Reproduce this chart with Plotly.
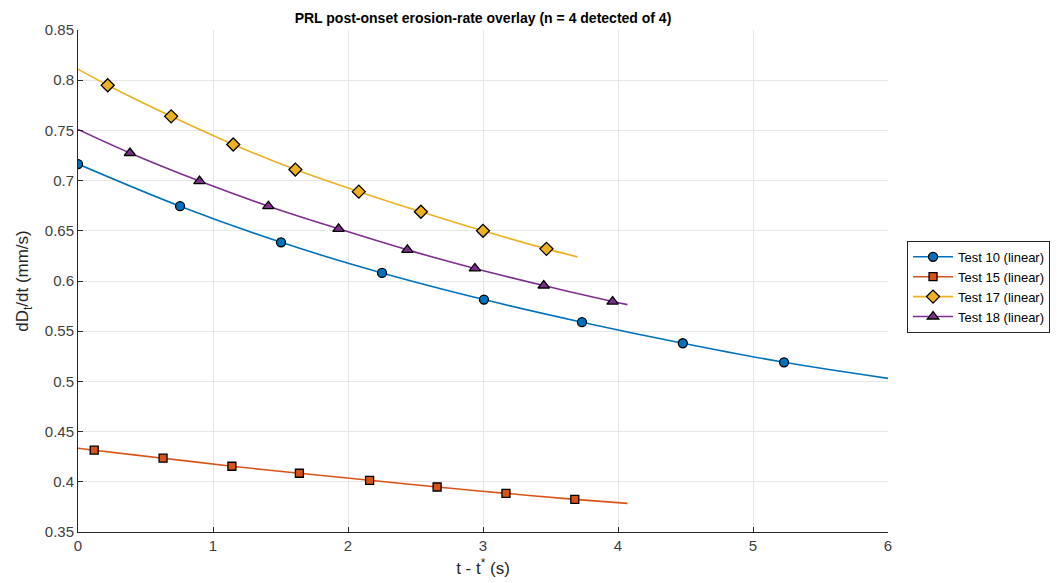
import plotly.graph_objects as go

# ---- data ----
names = ["Test 10 (linear)", "Test 15 (linear)", "Test 17 (linear)", "Test 18 (linear)"]

t10_mx = [0.0, 0.756, 1.504, 2.252, 3.007, 3.733, 4.48, 5.23]
t10_my = [0.7165, 0.6745, 0.6385, 0.608, 0.5815, 0.559, 0.538, 0.519]
t10_fx = [0.0, 0.756, 1.504, 2.252, 3.007, 3.733, 4.48, 5.23, 6.0]
t10_fy = [0.7165, 0.6745, 0.6385, 0.608, 0.5815, 0.559, 0.538, 0.519, 0.503]

t15_mx = [0.12, 0.63, 1.14, 1.64, 2.16, 2.66, 3.17, 3.68]
t15_my = [0.4315, 0.4235, 0.4155, 0.4085, 0.4015, 0.3948, 0.3885, 0.3825]
t15_fx = [0.0, 0.12, 0.63, 1.14, 1.64, 2.16, 2.66, 3.17, 3.68, 4.07]
t15_fy = [0.4335, 0.4315, 0.4235, 0.4155, 0.4085, 0.4015, 0.3948, 0.3885, 0.3825, 0.3785]

t17_mx = [0.22, 0.69, 1.15, 1.61, 2.08, 2.54, 3.0, 3.47]
t17_my = [0.795, 0.764, 0.736, 0.711, 0.689, 0.669, 0.650, 0.632]
t17_fx = [0.0, 0.22, 0.69, 1.15, 1.61, 2.08, 2.54, 3.0, 3.47, 3.70]
t17_fy = [0.811, 0.795, 0.764, 0.736, 0.711, 0.689, 0.669, 0.650, 0.632, 0.624]

t18_mx = [0.385, 0.90, 1.41, 1.93, 2.44, 2.94, 3.45, 3.96]
t18_my = [0.7275, 0.6995, 0.6745, 0.652, 0.631, 0.6125, 0.5955, 0.5795]
t18_fx = [0.0, 0.385, 0.90, 1.41, 1.93, 2.44, 2.94, 3.45, 3.96, 4.07]
t18_fy = [0.751, 0.7275, 0.6995, 0.6745, 0.652, 0.631, 0.6125, 0.5955, 0.5795, 0.5765]

x_ticks = [0, 1, 2, 3, 4, 5, 6]
y_ticks = [0.35, 0.4, 0.45, 0.5, 0.55, 0.6, 0.65, 0.7, 0.75, 0.8, 0.85]
y_ticktext = ["0.35", "0.4", "0.45", "0.5", "0.55", "0.6", "0.65", "0.7", "0.75", "0.8", "0.85"]

colors = ["#0072BD", "#D95319", "#EDB120", "#7E2F8E"]
symbols = ["circle", "square", "diamond", "triangle-up"]
sizes = [9, 8, 10, 10]

series = [
    (t10_fx, t10_fy, t10_mx, t10_my),
    (t15_fx, t15_fy, t15_mx, t15_my),
    (t17_fx, t17_fy, t17_mx, t17_my),
    (t18_fx, t18_fy, t18_mx, t18_my),
]

FONT = "Liberation Sans, Arial, sans-serif"

fig = go.Figure()
for i, (fx, fy, mx, my) in enumerate(series):
    fig.add_trace(go.Scatter(
        x=fx, y=fy, mode="lines", line=dict(color=colors[i], width=1.6, shape="spline"),
        showlegend=False, hoverinfo="skip", legendgroup=str(i)))
    fig.add_trace(go.Scatter(
        x=mx, y=my, mode="markers", name=names[i], legendgroup=str(i),
        marker=dict(symbol=symbols[i], size=sizes[i], color=colors[i],
                    line=dict(color="#000000", width=1.3)),
        showlegend=False))
    fig.add_trace(go.Scatter(
        x=[None], y=[None], mode="lines+markers", name=names[i], legendgroup=str(i),
        line=dict(color=colors[i], width=1.6),
        marker=dict(symbol=symbols[i], size=sizes[i], color=colors[i],
                    line=dict(color="#000000", width=1.3))))

axis_common = dict(
    showgrid=True, gridcolor="#E6E6E6", gridwidth=1,
    showline=True, linecolor="#262626", linewidth=1,
    ticks="inside", ticklen=5, tickcolor="#262626",
    zeroline=False, mirror=False, automargin=False,
    tickfont=dict(family=FONT, size=15, color="#404040"),
)

fig.update_layout(
    width=1062, height=583,
    margin=dict(l=78, r=174, t=30, b=51),
    paper_bgcolor="white", plot_bgcolor="white",
    font=dict(family=FONT, color="#262626"),
    title=dict(text="<b>PRL post-onset erosion-rate overlay (n = 4 detected of 4)</b>",
               x=0.5, xref="paper", xanchor="center", y=1 - 18 / 583, yanchor="middle",
               font=dict(size=14, color="#000000")),
    xaxis=dict(range=[0, 6], tickvals=x_ticks,
               title=dict(text="t - t<sup>*</sup> (s)", font=dict(size=17, color="#262626"), standoff=9),
               **axis_common),
    yaxis=dict(range=[0.35, 0.85], tickvals=y_ticks, ticktext=y_ticktext,
               title=dict(text="dD<sub>t</sub>/dt (mm/s)", font=dict(size=17, color="#262626"), standoff=11),
               **axis_common),
    legend=dict(x=1.0235, y=0.58, xanchor="left", yanchor="top",
                bgcolor="white", bordercolor="#262626", borderwidth=1,
                font=dict(size=13, color="#000000", family=FONT), tracegroupgap=0,
                itemwidth=40),
)

fig.write_html("out.html")
